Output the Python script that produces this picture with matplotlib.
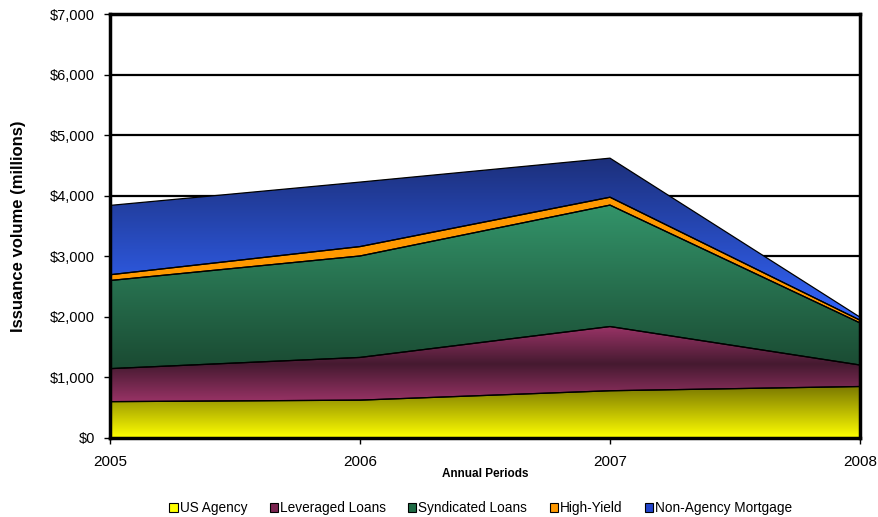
import numpy as np
import matplotlib
matplotlib.use("Agg")
import matplotlib.pyplot as plt
from matplotlib.patches import Polygon, Patch
from matplotlib.colors import LinearSegmentedColormap
from matplotlib.ticker import FuncFormatter, MultipleLocator

plt.rcParams['font.family'] = ['Liberation Sans', 'DejaVu Sans']

# Issuance volume by year, $ millions (stacked bottom to top)
years = ["2005", "2006", "2007", "2008"]
us_agency = [600, 625, 780, 850]
leveraged_loans = [545, 705, 1060, 355]
syndicated_loans = [1455, 1675, 2005, 695]
high_yield = [95, 155, 130, 45]
non_agency_mortgage = [1145, 1065, 645, 50]

series_names = ["US Agency", "Leveraged Loans", "Syndicated Loans",
                "High-Yield", "Non-Agency Mortgage"]
series_values = [us_agency, leveraged_loans, syndicated_loans,
                 high_yield, non_agency_mortgage]

# vertical gradient per layer: (positions from bottom to top, colors)
gradients = [
    ([0.0, 1.0], ["#ffff00", "#7a7800"]),
    ([0.0, 0.5, 1.0], ["#993366", "#451a30", "#993366"]),
    ([0.0, 1.0], ["#1a4a32", "#33946a"]),
    ([0.0, 1.0], ["#ff9900", "#ff9900"]),
    ([0.0, 1.0], ["#3366ff", "#1c2f7a"]),
]
legend_colors = ["#ffff00", "#7a2450", "#1f6b45", "#ff9900", "#2244cc"]


def gradient_area(ax, x, lower, upper, stops, colors):
    verts = list(zip(x, upper)) + list(zip(x[::-1], lower[::-1]))
    poly = Polygon(verts, closed=True, facecolor='none',
                   edgecolor='black', linewidth=0.9, zorder=3)
    ax.add_patch(poly)
    cmap = LinearSegmentedColormap.from_list('grad', list(zip(stops, colors)))
    grad = np.linspace(0, 1, 256).reshape(-1, 1)
    im = ax.imshow(grad, cmap=cmap, origin='lower', aspect='auto',
                   extent=[x[0], x[-1], min(lower), max(upper)], zorder=2)
    im.set_clip_path(poly)


fig = plt.figure(figsize=(8.79, 5.17), dpi=100)
ax = fig.add_axes([110 / 879, 1 - 438 / 517, 750 / 879, 424 / 517])

x = np.arange(len(years), dtype=float)
base = np.zeros(len(years))
for vals, (stops, colors) in zip(series_values, gradients):
    top = base + np.array(vals, dtype=float)
    gradient_area(ax, x, base, top, stops, colors)
    base = top

ax.set_xlim(0, len(years) - 1)
ax.set_ylim(0, 7000)
ax.yaxis.set_major_locator(MultipleLocator(1000))
ax.yaxis.set_major_formatter(FuncFormatter(lambda v, p: f"${v:,.0f}"))
ax.set_xticks(x)
ax.set_xticklabels(years)
ax.set_axisbelow(True)
ax.yaxis.grid(True, color='black', linewidth=1.6)

for s in ax.spines.values():
    s.set_linewidth(2.5)
    s.set_color('black')
ax.tick_params(axis='both', direction='out', length=4, width=1,
               colors='black')
ax.tick_params(axis='y', labelsize=10.5, pad=7)
ax.tick_params(axis='x', labelsize=11, pad=8)

ax.set_ylabel("Issuance volume (millions)", fontsize=12, fontweight='bold')
ax.yaxis.set_label_coords(-0.112, 0.5)
ax.set_xlabel("Annual Periods", fontsize=8.5, fontweight='bold')
ax.xaxis.set_label_coords(0.5, -0.07)

handles = [Patch(facecolor=c, edgecolor='black', linewidth=0.8)
           for c in legend_colors]
fig.legend(handles, series_names, loc='center', bbox_to_anchor=(0.547, 0.017),
           ncol=5, frameon=False, fontsize=9.8, handlelength=0.6,
           handleheight=0.6, handletextpad=0.15, columnspacing=1.65,
           borderpad=0)

fig.savefig("out.png", dpi=100)
